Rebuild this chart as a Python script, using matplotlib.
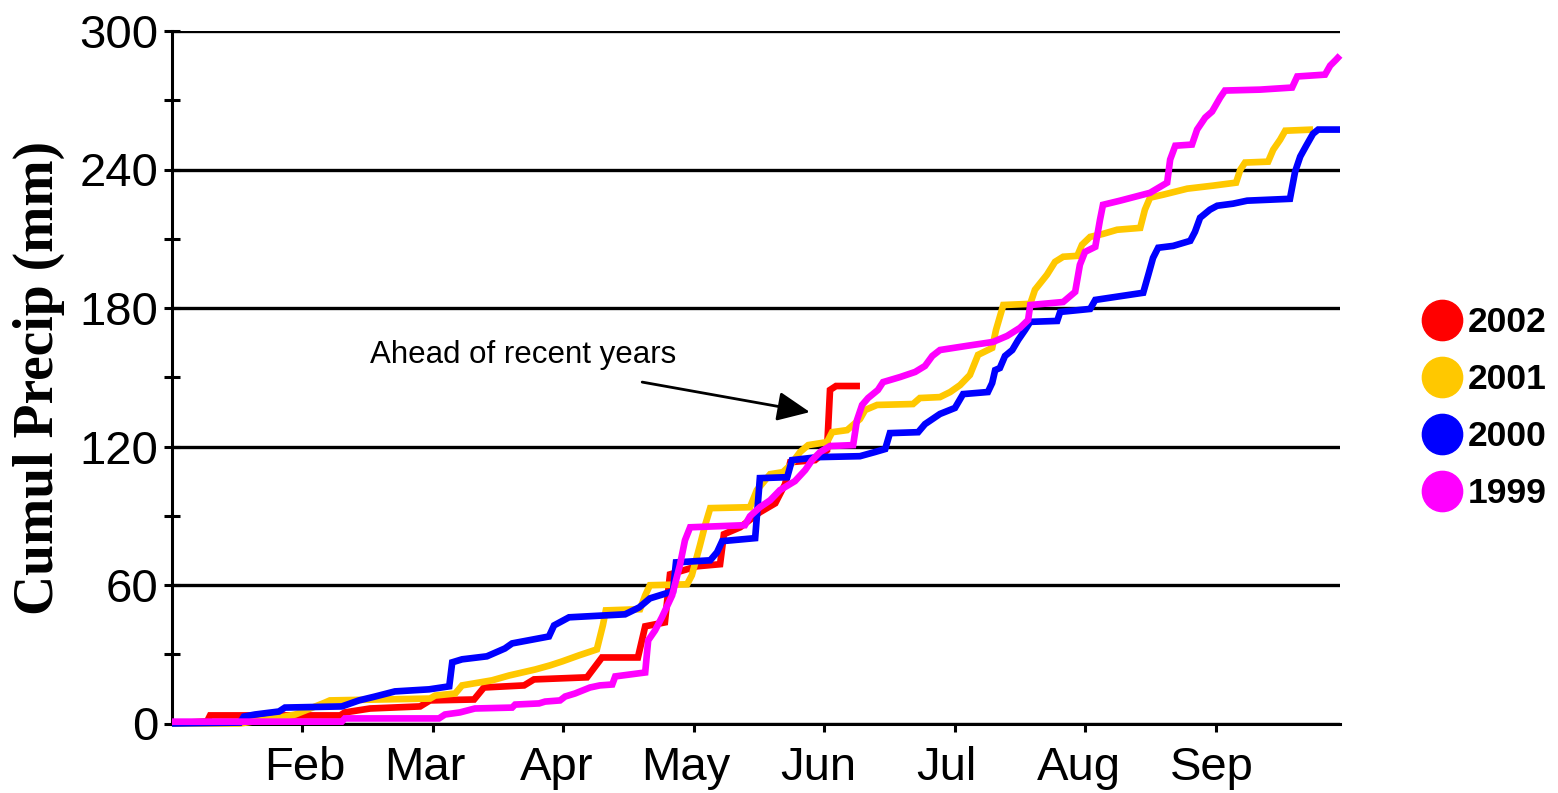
import matplotlib
matplotlib.use("Agg")
import matplotlib.pyplot as plt
from matplotlib.lines import Line2D
import numpy as np

# ---------------- data ----------------
months = ["Feb", "Mar", "Apr", "May", "Jun", "Jul", "Aug", "Sep"]
month_start_day = [31, 59, 90, 120, 151, 181, 212, 243]

years = ["2002", "2001", "2000", "1999"]

days_2002 = [0, 8.2, 8.9, 39.3, 40.4, 46.3, 58.0, 60.3, 70.6, 72.9, 82.3, 84.6, 97.0,
             100.5, 108.9, 110.6, 115.2, 116.4, 118.7, 122.7, 128.1, 129.0, 132.8,
             137.4, 141.0, 143.3, 144.5, 150.3, 153.1, 153.8, 155.2, 160.8]
precip_2002 = [0, 0.9, 3.5, 3.5, 4.8, 6.5, 7.4, 10.0, 10.4, 15.6, 16.5, 19.1, 20.0,
               28.6, 28.6, 42.1, 43.8, 64.6, 65.9, 68.1, 69.0, 82.0, 85.0,
               91.5, 95.4, 103.7, 113.2, 114.1, 118.4, 144.5, 146.2, 146.2]

days_2001 = [0, 15.9, 26.4, 28.8, 35.8, 36.9, 60.3, 61.5, 66.2, 67.8, 74.8, 78.8, 84.9,
             88.4, 91.2, 95.1, 99.3, 100.7, 101.4, 109.4, 110.6, 111.7, 120.4, 121.5,
             123.4, 124.6, 125.8, 135.1, 136.7, 139.8, 142.8, 144.5, 146.8, 148.7,
             153.1, 154.3, 157.8, 160.8, 162.0, 164.8, 173.2, 174.8, 179.5, 181.9,
             184.2, 186.5, 188.4, 191.7, 192.6, 194.3, 200.6, 201.7, 204.5, 206.4,
             208.3, 211.6, 212.7, 214.6, 217.6, 220.9, 226.3, 227.4, 228.6, 231.7,
             237.3, 243.3, 248.7, 249.7, 250.8, 256.2, 257.4, 259.0, 260.2, 266.7]
precip_2001 = [0, 0, 3.0, 3.9, 9.1, 10.0, 10.8, 12.1, 13.0, 16.5, 18.7, 20.8, 23.4,
               25.2, 26.9, 29.5, 32.1, 42.5, 49.0, 49.5, 55.5, 59.9, 60.3, 64.2,
               77.2, 85.9, 93.3, 93.7, 101.1, 108.0, 108.9, 111.9, 117.6, 120.6,
               121.9, 126.2, 127.1, 131.9, 135.8, 138.0, 138.4, 141.0, 141.4, 143.6,
               146.6, 151.0, 159.7, 162.7, 170.5, 181.3, 181.8, 187.9, 194.4, 200.0,
               202.2, 202.6, 207.4, 210.8, 212.1, 213.9, 214.7, 222.6, 227.8, 229.1,
               231.7, 233.0, 234.3, 239.9, 243.0, 243.4, 248.6, 252.9, 256.8, 257.3]

days_2000 = [0, 15.9, 16.8, 19.4, 25.0, 26.4, 39.7, 43.7, 47.5, 52.1, 60.1, 64.8, 65.5,
             67.8, 73.6, 77.8, 79.5, 88.1, 89.3, 92.8, 105.9, 109.2, 111.7, 117.1,
             117.8, 125.8, 127.4, 128.6, 136.3, 137.0, 137.4, 143.8, 144.9, 151.0,
             160.8, 164.3, 166.7, 167.8, 174.4, 176.0, 179.5, 183.0, 184.9, 190.7,
             191.7, 192.4, 193.5, 194.7, 196.4, 197.8, 199.4, 200.6, 206.9, 207.6,
             214.6, 215.8, 227.0, 228.2, 229.3, 230.5, 234.0, 238.0, 239.1, 240.3,
             242.6, 244.3, 248.0, 251.3, 261.3, 262.5, 263.7, 265.1, 266.7, 267.9, 273.0]
precip_2000 = [0, 0.4, 3.0, 3.9, 5.2, 6.9, 7.4, 10.0, 11.7, 13.9, 14.8, 16.1, 26.5,
               27.8, 29.1, 32.5, 34.7, 37.7, 42.5, 46.0, 47.3, 50.3, 54.2, 57.3,
               69.8, 70.7, 74.2, 79.0, 80.3, 96.7, 106.3, 106.7, 114.1, 115.4,
               115.8, 117.6, 118.9, 125.8, 126.2, 129.7, 134.1, 136.7, 142.7, 143.6,
               147.5, 153.1, 154.0, 159.2, 161.8, 166.2, 170.5, 174.0, 174.4, 178.3,
               179.6, 183.5, 186.6, 194.4, 201.7, 206.1, 206.9, 209.1, 213.0, 219.1,
               222.6, 224.3, 225.2, 226.5, 227.3, 239.0, 245.6, 250.3, 255.5, 257.3, 257.3]

days_1999 = [0, 39.7, 40.4, 62.4, 63.8, 67.3, 70.8, 79.5, 80.2, 85.8, 87.2, 90.7, 91.9,
             94.2, 97.7, 100.0, 102.9, 103.6, 110.6, 111.3, 112.9, 114.5, 116.9, 118.7,
             119.9, 121.1, 133.9, 135.1, 137.4, 139.8, 142.1, 145.6, 148.0, 149.6,
             151.5, 153.8, 159.2, 160.1, 161.3, 162.7, 165.0, 166.2, 170.2, 173.7,
             176.0, 177.7, 179.5, 185.8, 191.9, 195.2, 198.2, 200.1, 200.6, 208.3,
             211.1, 212.2, 213.4, 215.8, 216.9, 217.6, 221.6, 228.6, 232.6, 233.3,
             234.5, 238.4, 239.6, 241.5, 243.1, 245.0, 246.1, 254.3, 261.8, 263.0,
             269.5, 270.7, 272.1, 273.0]
precip_1999 = [0.8, 0.8, 2.2, 2.2, 3.9, 4.8, 6.5, 6.9, 8.2, 8.7, 9.5, 10.0, 11.7,
               13.0, 15.6, 16.5, 16.9, 20.4, 22.1, 36.0, 40.3, 46.0, 55.5, 68.5,
               79.4, 85.0, 85.9, 89.8, 93.7, 96.7, 101.1, 105.0, 109.8, 114.1,
               117.6, 120.2, 120.6, 131.4, 138.0, 141.0, 144.5, 147.9, 150.1, 152.3,
               154.9, 159.2, 161.8, 163.6, 165.3, 167.9, 171.4, 174.8, 181.3, 182.6,
               187.0, 198.7, 204.3, 206.5, 218.2, 224.7, 226.5, 229.9, 234.3, 244.3,
               250.3, 250.8, 257.3, 262.5, 265.1, 271.2, 274.2, 274.6, 275.5, 280.3,
               281.1, 285.0, 287.6, 289.4]

series_days = [days_2002, days_2001, days_2000, days_1999]
series_vals = [precip_2002, precip_2001, precip_2000, precip_1999]

# ---------------- style ----------------
colors = ["#FF0000", "#FFC800", "#0000FF", "#FF00FF"]
plt.rcParams["font.family"] = ["Liberation Sans", "DejaVu Sans"]

W, H = 1558, 793
fig = plt.figure(figsize=(W / 100, H / 100), dpi=100)
ax = fig.add_axes([172 / W, 1 - 723.5 / H, (1340 - 172) / W, (723.5 - 31) / H])

for i, (d, v, c) in enumerate(zip(series_days, series_vals, colors)):
    ax.plot(d, v, color=c, lw=4.8, solid_joinstyle="miter", solid_capstyle="butt",
            zorder=3 + i, clip_on=False)

ax.set_xlim(0, 273)
ax.set_ylim(0, 300)

# y axis
ax.set_yticks(np.arange(0, 301, 60))
ax.set_yticks(np.arange(30, 300, 60), minor=True)
ax.tick_params(axis="y", which="both", direction="inout", length=11.5, width=2.2,
               color="black")
ax.tick_params(axis="y", which="major", labelsize=34, pad=4)
ax.yaxis.grid(True, which="major", color="black", lw=2.4)
ax.set_axisbelow(True)

# x axis: ticks spaced evenly, labels at month starts
ax.set_xticks(np.arange(30.5, 250, 30.5))
ax.set_xticklabels([])
ax.set_xticks(month_start_day, minor=True)
ax.set_xticklabels(months, minor=True)
ax.tick_params(axis="x", which="major", direction="out", length=6, width=2.2)
ax.tick_params(axis="x", which="minor", length=0, labelsize=34, pad=16.5)

for s in ["top", "right"]:
    ax.spines[s].set_visible(False)
for s in ["left", "bottom"]:
    ax.spines[s].set_linewidth(2.2)
    ax.spines[s].set_color("black")

# y label
fig.text(53 / W, 1 - 378 / H, "Cumul Precip (mm)", rotation=90, rotation_mode="anchor",
         ha="center", va="baseline", fontsize=40, fontweight="bold",
         family=["Liberation Serif", "DejaVu Serif"])

# annotation
ax.text(46.3, 156.2, "Ahead of recent years", fontsize=22.5, ha="left", va="baseline")
ax.annotate("", xy=(149.1, 134.9), xytext=(109.9, 147.9),
            arrowprops=dict(arrowstyle="-|>,head_length=1.0,head_width=0.45",
                            mutation_scale=20, lw=2, color="black",
                            shrinkA=0, shrinkB=0))

# legend
handles = [Line2D([], [], marker="o", linestyle="none", markersize=29,
                  markerfacecolor=c, markeredgecolor=c) for c in colors]
fig.legend(handles, years, loc="upper left", bbox_to_anchor=(1422 / W, 1 - 306 / H),
           frameon=False, prop={"size": 25.5, "weight": "bold"}, handlelength=1.15,
           handletextpad=0.15, labelspacing=0.68, borderpad=0, borderaxespad=0)

fig.savefig("out.png", dpi=100)
